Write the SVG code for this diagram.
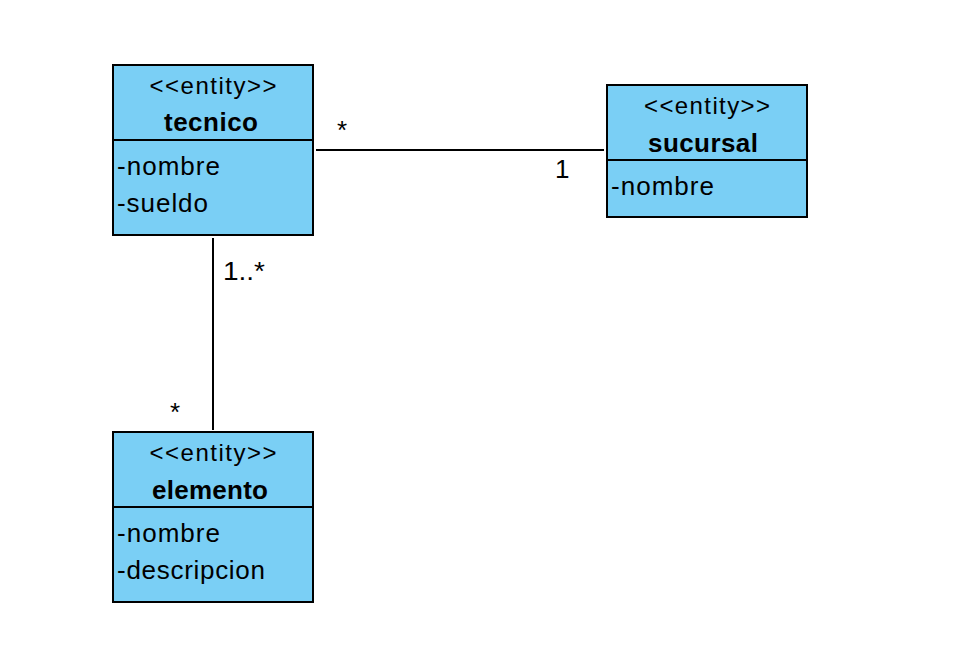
<svg xmlns="http://www.w3.org/2000/svg" width="965" height="672" viewBox="0 0 965 672">
<style>
.box{fill:#7acff5;stroke:#000;stroke-width:2}
.div{stroke:#000;stroke-width:2}
.st{font-family:"Liberation Sans",Arial,sans-serif;font-size:24px;text-anchor:middle;fill:#000}
.nm{font-family:"Liberation Sans",Arial,sans-serif;font-size:26px;font-weight:bold;text-anchor:middle;fill:#000}
.at{font-family:"Liberation Sans",Arial,sans-serif;font-size:26px;fill:#000}
.lb{font-family:"Liberation Sans",Arial,sans-serif;font-size:26px;fill:#000}
.cn{stroke:#000;stroke-width:2;fill:none}
</style>
<rect width="965" height="672" fill="#fff"/>
<g id="connectors">
<line class="cn" x1="316" y1="150" x2="604" y2="150"/>
<line class="cn" x1="213" y1="238" x2="213" y2="430"/>
<text class="lb" x="337" y="139">*</text>
<text class="lb" x="555" y="178">1</text>
<text class="lb" x="223" y="280" textLength="42" lengthAdjust="spacingAndGlyphs">1..*</text>
<text class="lb" x="170" y="421">*</text>
</g>
<g id="tecnico">
<rect class="box" x="113" y="65" width="200" height="170"/>
<line class="div" x1="113" y1="140" x2="313" y2="140"/>
<text class="st" x="213" y="94" textLength="127">&lt;&lt;entity&gt;&gt;</text>
<text class="nm" x="211" y="131" textLength="94">tecnico</text>
<text class="at" x="117" y="175" textLength="103">-nombre</text>
<text class="at" x="117" y="212" textLength="91">-sueldo</text>
</g>
<g id="sucursal">
<rect class="box" x="607" y="85" width="200" height="132"/>
<line class="div" x1="607" y1="160" x2="807" y2="160"/>
<text class="st" x="707" y="114" textLength="126">&lt;&lt;entity&gt;&gt;</text>
<text class="nm" x="703" y="152" textLength="110">sucursal</text>
<text class="at" x="611" y="195" textLength="103">-nombre</text>
</g>
<g id="elemento">
<rect class="box" x="113" y="432" width="200" height="170"/>
<line class="div" x1="113" y1="507" x2="313" y2="507"/>
<text class="st" x="213" y="461" textLength="127">&lt;&lt;entity&gt;&gt;</text>
<text class="nm" x="210" y="499" textLength="116">elemento</text>
<text class="at" x="117" y="542" textLength="103">-nombre</text>
<text class="at" x="117" y="579" textLength="148">-descripcion</text>
</g>
</svg>
